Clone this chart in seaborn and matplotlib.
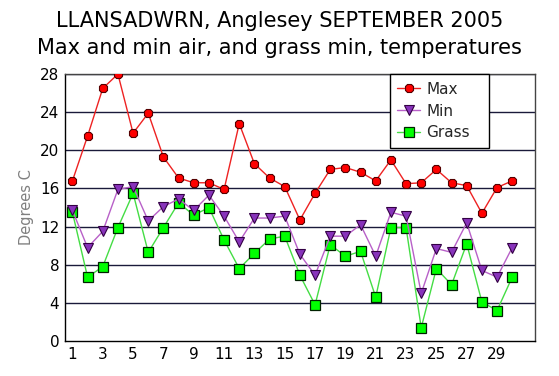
import matplotlib
matplotlib.use("Agg")
import matplotlib.pyplot as plt
import seaborn as sns
import pandas as pd

days = list(range(1, 31))
max_temp = [16.8, 21.5, 26.5, 28.0, 21.8, 23.9, 19.3, 17.1, 16.6, 16.6,
            15.9, 22.8, 18.6, 17.1, 16.2, 12.7, 15.5, 18.0, 18.2, 17.7,
            16.8, 19.0, 16.5, 16.6, 18.0, 16.6, 16.3, 13.4, 16.1, 16.8]
min_temp = [13.7, 9.8, 11.5, 15.9, 16.2, 12.6, 14.1, 14.9, 13.7, 15.3,
            13.1, 10.4, 12.9, 12.9, 13.1, 9.1, 6.9, 11.0, 11.0, 12.2,
            8.9, 13.5, 13.1, 5.0, 9.7, 9.3, 12.4, 7.4, 6.7, 9.8]
grass_temp = [13.5, 6.7, 7.8, 11.9, 15.5, 9.3, 11.9, 14.5, 13.2, 14.0,
              10.6, 7.6, 9.2, 10.7, 11.0, 6.9, 3.8, 10.1, 8.9, 9.4,
              4.6, 11.9, 11.9, 1.4, 7.6, 5.9, 10.2, 4.1, 3.2, 6.7]
y_ticks = [0, 4, 8, 12, 16, 20, 24, 28]
x_ticks = list(range(1, 30, 2))

df = pd.DataFrame({"day": days, "Max": max_temp, "Min": min_temp, "Grass": grass_temp})

sns.set_style("white")
plt.rcParams['font.family'] = ['DejaVu Sans']

fig = plt.figure(figsize=(5.59, 3.76), dpi=100)
ax = fig.add_axes([0.116, 0.093, 0.841, 0.71])

sns.lineplot(data=df, x="day", y="Max", ax=ax, color="#EE2222", lw=1.0,
             marker="8", markersize=6.5, markerfacecolor="#FF0000",
             markeredgecolor="#550000", markeredgewidth=0.8, label="Max", zorder=5)
sns.lineplot(data=df, x="day", y="Min", ax=ax, color="#B860C8", lw=1.0,
             marker="v", markersize=6.5, markerfacecolor="#8833BB",
             markeredgecolor="#330044", markeredgewidth=0.8, label="Min", zorder=4)
sns.lineplot(data=df, x="day", y="Grass", ax=ax, color="#44DD44", lw=1.0,
             marker="s", markersize=6.5, markerfacecolor="#00FF00",
             markeredgecolor="#002200", markeredgewidth=0.9, label="Grass", zorder=3)

ax.set_xlim(0.5, 31.5)
ax.set_ylim(0, 28)
ax.set_yticks(y_ticks)
ax.set_xticks(x_ticks)
ax.tick_params(axis="both", labelsize=11, length=0, pad=4, colors="#000000")
for y in y_ticks[1:]:
    ax.axhline(y, color="#1a1a3a", lw=1.0, zorder=1)
for side in ["left", "bottom"]:
    ax.spines[side].set_color("#000000")
    ax.spines[side].set_linewidth(1.0)
for side in ["right", "top"]:
    ax.spines[side].set_color("#444444")
    ax.spines[side].set_linewidth(1.0)

ax.set_xlabel("")
ax.set_ylabel("Degrees C", color="#808080", fontsize=10.5, labelpad=4)

leg_h = 74 / 267
leg = ax.legend(loc="upper left", bbox_to_anchor=(0.691, 1.0 - leg_h, 0.211, leg_h),
                mode="expand", frameon=True,
                fancybox=False, edgecolor="#000000", fontsize=11,
                handlelength=1.5, handletextpad=0.4, borderpad=0.5,
                labelspacing=0.45, framealpha=1, borderaxespad=0)
leg.get_frame().set_linewidth(1.0)

fig.text(0.5, 0.945, "LLANSADWRN, Anglesey SEPTEMBER 2005", ha="center", va="center",
         fontsize=15, color="#000000")
fig.text(0.5, 0.873, "Max and min air, and grass min, temperatures", ha="center",
         va="center", fontsize=15, color="#000000")

fig.savefig("out.png", dpi=100)
